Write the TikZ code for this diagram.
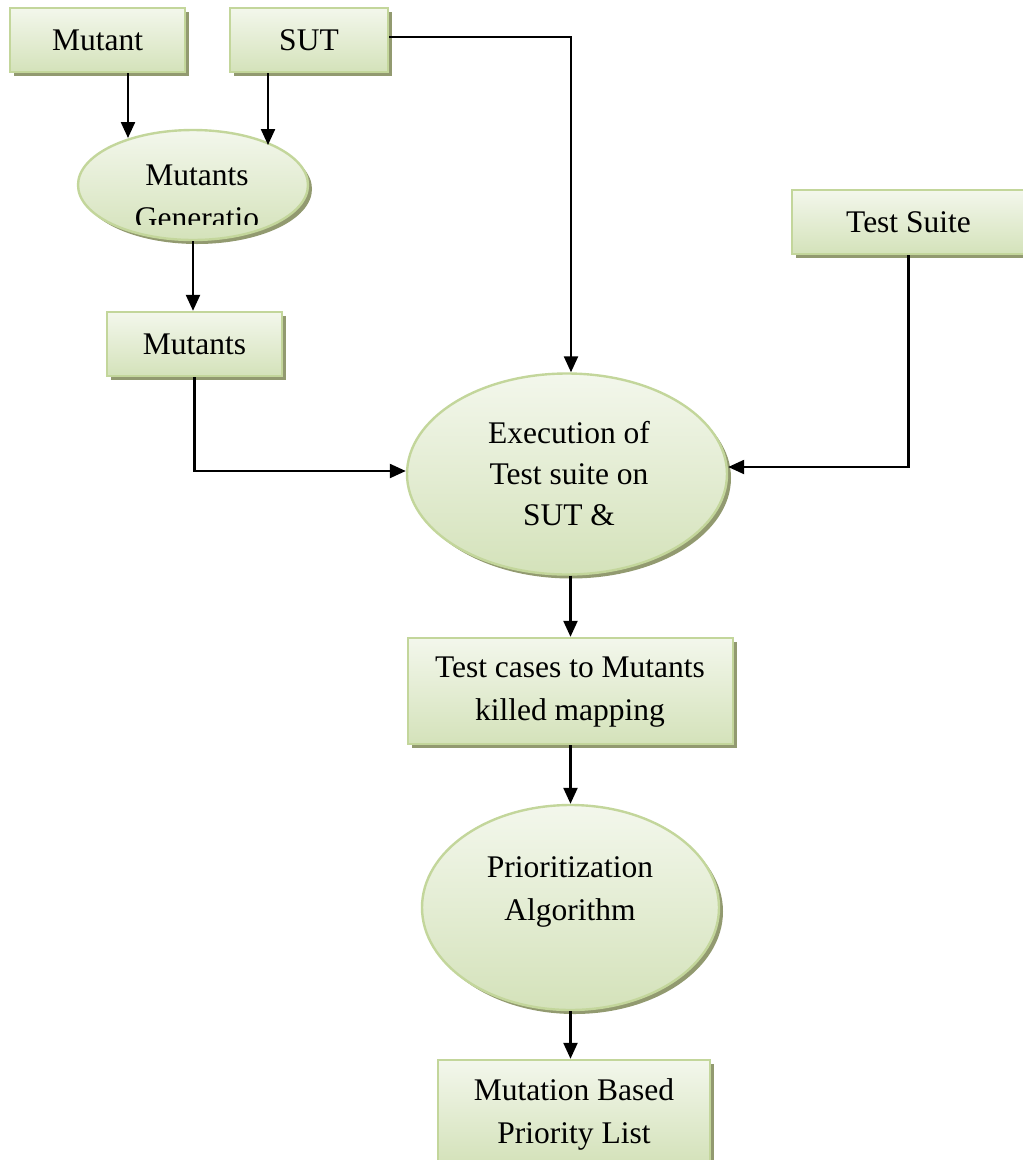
\documentclass[tikz,border=0pt]{standalone}
\usepackage{fontspec}
\setmainfont{Liberation Serif}
\usetikzlibrary{arrows.meta,shapes.geometric,shadows,calc}
\definecolor{filltop}{RGB}{243,247,236}
\definecolor{fillbot}{RGB}{212,226,186}
\definecolor{rim}{RGB}{195,214,155}
\definecolor{shade}{RGB}{146,154,112}
\begin{document}
\begin{tikzpicture}[x=1pt,y=-1pt,
  every node/.style={font=\fontsize{31.5}{43}\selectfont, text=black},
  greenfill/.style={draw=rim, line width=2.4pt, top color=filltop, bottom color=fillbot,
    drop shadow={shadow xshift=4pt, shadow yshift=-4pt, fill=shade, opacity=1}},
  box/.style={greenfill, rectangle, inner sep=0pt, align=center},
  oval/.style={greenfill, ellipse, inner sep=0pt},
  arr/.style={line width=2.3pt, -{Triangle[length=16pt,width=14pt]}}]
\useasboundingbox (0,0) rectangle (1023,1160);

% input boxes
\node[box, minimum width=175, minimum height=64] (mutant) at (97.5,40) {Mutant};
\node[box, minimum width=158, minimum height=64] (sut) at (309,40) {SUT};
\node[box, minimum width=233, minimum height=64] (tsuite) at (908.5,222) {Test Suite};

% mutant generation step (text clipped by its box)
\node[oval, minimum width=230, minimum height=110] (gen) at (193,185) {};
\begin{scope}
  \clip (79,150) rectangle (308,224);
  \node[align=center] (gentext) at (197,197) {Mutants\\Generatio};
\end{scope}

\node[box, minimum width=175, minimum height=64] (mutants) at (194.5,344) {Mutants};

% execution step
\node[oval, minimum width=320, minimum height=201] (exec) at (567,474) {};
\node[align=center] (exectext) at (569,474) {Execution of\\[-2pt]Test suite on\\[-2pt]SUT \&};

\node[box, minimum width=325, minimum height=106] (tc) at (570.5,691) {};
\node[align=center] (tctext) at (570,692) {Test cases to Mutants\\killed mapping};

% prioritization step
\node[oval, minimum width=297, minimum height=205] (prio) at (570.5,907.5) {};
\node[align=center] (priotext) at (570,892) {Prioritization\\Algorithm};

\node[box, minimum width=272, minimum height=103] (out) at (574,1111.5) {};
\node[align=center] (outtext) at (574,1114) {Mutation Based\\Priority List};

% connectors
\coordinate (genin1) at (128,138);
\coordinate (genin2) at (268,145);
\draw[arr] (mutant.south -| genin1) -- (genin1);
\draw[arr] (sut.south -| genin2) -- (genin2);
\draw[arr] (sut.east |- 0,37) -| ($(exec.north)+(4,0)$);
\draw[arr] (gen.south) -- (mutants.north -| gen.south);
\draw[arr] (mutants.south) |- ($(exec.west)+(0,-3)$);
\draw[arr] (tsuite.south) |- ($(exec.east)+(0,-7)$);
\draw[arr] (exec.south -| tc.north) -- (tc.north);
\draw[arr] (tc.south) -- (prio.north -| tc.south);
\draw[arr] (prio.south) -- (out.north -| prio.south);
\end{tikzpicture}
\end{document}
